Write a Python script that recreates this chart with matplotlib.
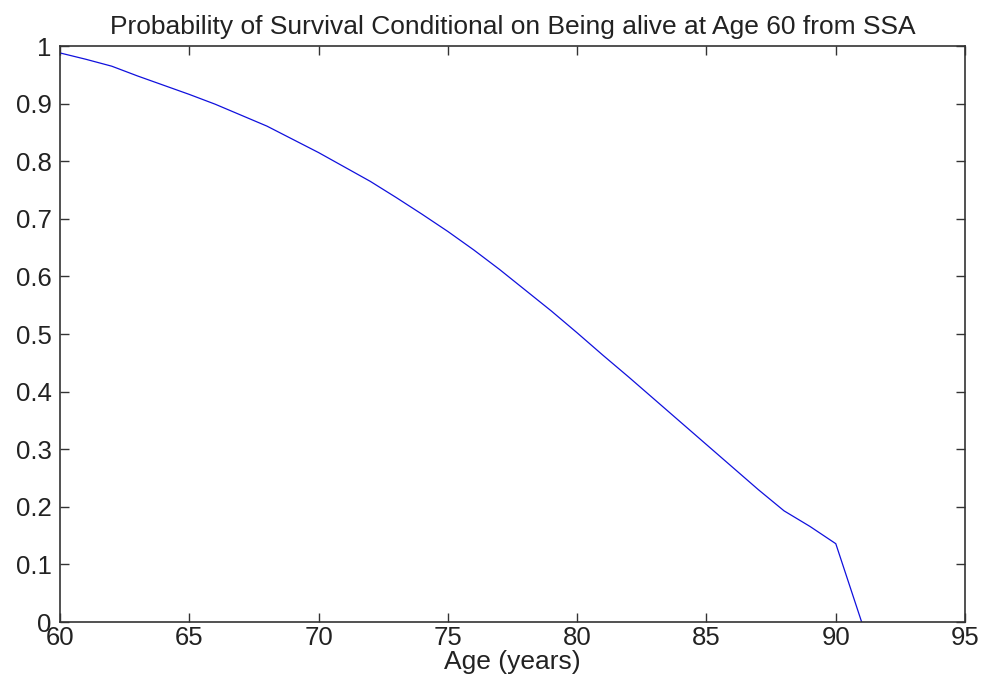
import matplotlib.pyplot as plt

plt.rcParams['font.family'] = ['Liberation Sans', 'DejaVu Sans']

# survival probability conditional on being alive at 60
ages = [60, 61, 62, 63, 64, 65, 66, 67, 68, 69, 70, 71, 72, 73, 74, 75,
        76, 77, 78, 79, 80, 81, 82, 83, 84, 85, 86, 87, 88, 89, 90, 91]
survival = [0.988, 0.977, 0.965, 0.948, 0.932, 0.916, 0.899, 0.880, 0.861,
            0.838, 0.815, 0.790, 0.765, 0.737, 0.708, 0.678, 0.646, 0.612,
            0.576, 0.540, 0.502, 0.463, 0.425, 0.386, 0.347, 0.308, 0.269,
            0.230, 0.193, 0.166, 0.136, 0.0]
x_ticks = [60, 65, 70, 75, 80, 85, 90, 95]
y_ticks = [0, 0.1, 0.2, 0.3, 0.4, 0.5, 0.6, 0.7, 0.8, 0.9, 1]
y_labels = ['0', '0.1', '0.2', '0.3', '0.4', '0.5', '0.6', '0.7', '0.8', '0.9', '1']

fig = plt.figure(figsize=(9.87, 6.89), dpi=100)
ax = fig.add_axes([0.0608, 0.0972, 0.917, 0.836])
ax.plot(ages, survival, color='#1010dd', linewidth=0.9)

ax.set_xlim(60, 95)
ax.set_ylim(0, 1)
ax.set_xticks(x_ticks)
ax.set_yticks(y_ticks)
ax.set_yticklabels(y_labels)
ax.tick_params(direction='in', length=6.5, width=1, top=True, right=True,
               labelsize=18.5, colors='#333333', labelcolor='#222222')
ax.tick_params(axis='x', pad=3)
ax.tick_params(axis='y', pad=6)
for s in ax.spines.values():
    s.set_color('#333333')
    s.set_linewidth(1.2)

ax.set_title('Probability of Survival Conditional on Being alive at Age 60 from SSA',
             fontsize=19, color='#222222', pad=9)
ax.set_xlabel('Age (years)', fontsize=19, color='#222222', labelpad=0)

fig.savefig('out.png', dpi=100)
